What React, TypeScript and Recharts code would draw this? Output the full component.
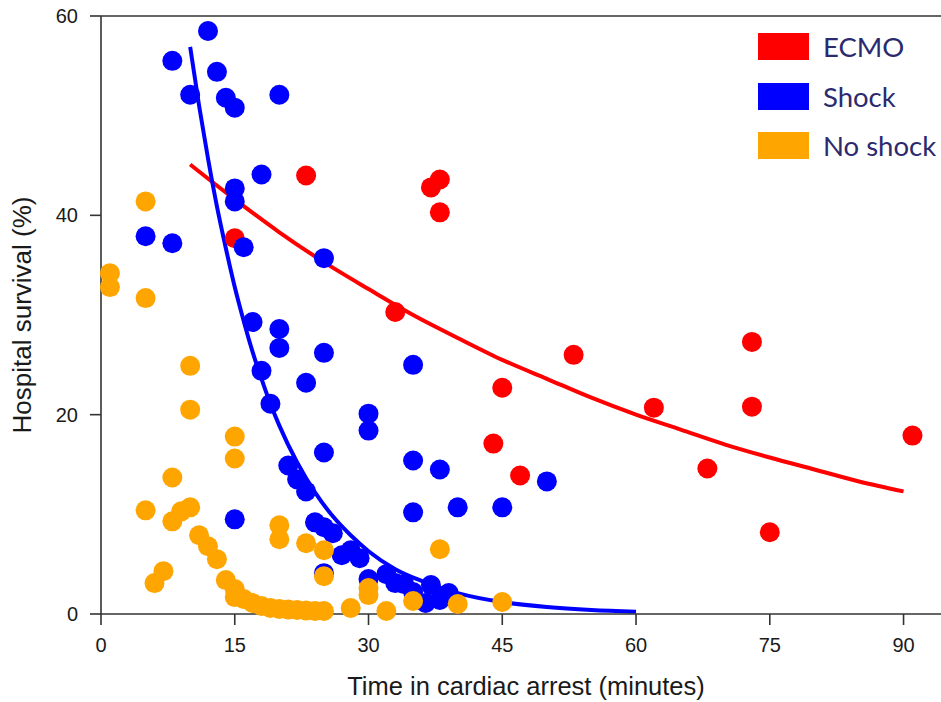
import {
  ComposedChart,
  Scatter,
  Line,
  XAxis,
  YAxis,
  ReferenceLine,
  Legend,
  Label,
} from 'recharts';

const xTicks = [0, 15, 30, 45, 60, 75, 90];
const yTicks = [0, 20, 40, 60];

const legendNames = ['ECMO', 'Shock', 'No shock'];
const legendColors = ['#ff0000', '#0000ff', '#ffa500'];

// ECMO group
const ecmoTime = [15, 23, 33, 37, 38, 38, 44, 45, 47, 53, 62, 68, 73, 73, 75, 91];
const ecmoSurvival = [37.7, 44, 30.3, 42.8, 43.6, 40.3, 17.1, 22.7, 13.9, 26, 20.7, 14.6, 27.3, 20.8, 8.2, 17.9];

// Shock group
const shockTime = [
  5, 8, 8, 10, 12, 13, 14, 15, 15, 15, 15, 16, 17, 18, 18, 19, 20, 20, 20, 21, 22, 23, 23, 24, 25, 25,
  25, 25, 25, 26, 27, 28, 29, 30, 30, 30, 32, 33, 34, 35, 35, 35, 35, 36.4, 37, 38, 38, 39, 40, 45, 50,
];
const shockSurvival = [
  37.9, 55.5, 37.2, 52.1, 58.5, 54.4, 51.8, 50.8, 42.7, 41.4, 9.5, 36.8, 29.3, 44.1, 24.4, 21.1, 52.1,
  28.6, 26.7, 14.9, 13.5, 23.2, 12.3, 9.2, 35.7, 26.2, 16.2, 8.7, 4.1, 8.1, 5.9, 6.4, 5.6, 20.1, 18.4,
  3.5, 4.0, 3.1, 3.0, 25.0, 15.4, 10.2, 2.2, 1.1, 2.9, 14.5, 1.4, 2.1, 10.7, 10.7, 13.3,
];

// No shock group
const noShockTime = [
  1, 1, 5, 5, 5, 6, 7, 8, 8, 9, 10, 10, 10, 11, 12, 13, 14, 15, 15, 15, 15, 16, 17, 18, 19, 20, 20, 20,
  21, 22, 23, 23, 24, 25, 25, 25, 28, 30, 30, 32, 35, 38, 40, 45,
];
const noShockSurvival = [
  34.2, 32.8, 41.4, 31.7, 10.4, 3.1, 4.3, 13.7, 9.3, 10.3, 24.9, 20.5, 10.7, 7.9, 6.8, 5.5, 3.4, 17.8,
  15.6, 2.5, 1.7, 1.5, 1.1, 0.8, 0.6, 8.9, 7.5, 0.5, 0.45, 0.4, 7.1, 0.35, 0.3, 6.4, 3.8, 0.3, 0.6, 2.6,
  1.9, 0.3, 1.3, 6.5, 1.0, 1.2,
];

// fitted curves
const ecmoFitTime = [10, 15, 20, 25, 30, 35, 40, 45, 50, 55, 60, 65, 70, 75, 80, 85, 90];
const ecmoFitSurvival = [45.1, 41.6, 38.3, 35.3, 32.6, 30.0, 27.7, 25.5, 23.6, 21.7, 20.0, 18.5, 17.0, 15.7, 14.5, 13.3, 12.3];

const shockFitTime = [10, 11, 12, 13, 14, 15, 16, 17, 18, 19, 20, 22, 24, 26, 28, 30, 33, 36, 40, 45, 50, 55, 60];
const shockFitSurvival = [
  56.9, 51.0, 45.7, 40.9, 36.7, 32.8, 29.4, 26.3, 23.6, 21.1, 18.9, 15.2, 12.2, 9.8, 7.9, 6.3, 4.5, 3.3,
  2.1, 1.2, 0.7, 0.4, 0.23,
];

const toPoints = (xs: number[], ys: number[]) => xs.map((x, i) => ({ x, y: ys[i] }));

const ecmoPoints = toPoints(ecmoTime, ecmoSurvival);
const shockPoints = toPoints(shockTime, shockSurvival);
const noShockPoints = toPoints(noShockTime, noShockSurvival);
const ecmoFit = toPoints(ecmoFitTime, ecmoFitSurvival);
const shockFit = toPoints(shockFitTime, shockFitSurvival);

const axisFont = '"Liberation Sans", Arial, sans-serif';

const dot = (color: string) => (props: any) => (
  <circle cx={props.cx} cy={props.cy} r={10} fill={color} />
);

const LegendBox = () => (
  <div>
    {legendNames.map((name, i) => (
      <div key={name} style={{ display: 'flex', alignItems: 'center', height: 49.5 }}>
        <div style={{ width: 51, height: 27, background: legendColors[i], marginRight: 14 }} />
        <span style={{ fontFamily: 'Lato, sans-serif', fontSize: 27.5, color: '#2b2a6e', lineHeight: 1 }}>
          {name}
        </span>
      </div>
    ))}
  </div>
);

export default function App() {
  return (
    <div style={{ position: 'absolute', left: 0, top: 0, background: '#fff' }}>
      <ComposedChart width={941} height={702} margin={{ top: 16, right: 0, bottom: 0, left: 0 }}>
        <XAxis
          dataKey="x"
          type="number"
          domain={[0, 94.2]}
          ticks={xTicks}
          height={88}
          tickSize={11}
          tickMargin={13}
          axisLine={{ stroke: '#333', strokeWidth: 1.6 }}
          tickLine={{ stroke: '#333', strokeWidth: 1.6 }}
          tick={{ fill: '#1a1a1a', fontSize: 20, fontFamily: axisFont }}
        >
          <Label
            value="Time in cardiac arrest (minutes)"
            position="insideBottom"
            offset={7}
            dx={5}
            style={{ fill: '#1a1a1a', fontSize: 25.5, fontFamily: axisFont }}
          />
        </XAxis>
        <YAxis
          dataKey="y"
          type="number"
          domain={[0, 60]}
          ticks={yTicks}
          width={101}
          tickSize={11}
          tickMargin={12}
          axisLine={{ stroke: '#333', strokeWidth: 1.6 }}
          tickLine={{ stroke: '#333', strokeWidth: 1.6 }}
          tick={{ fill: '#1a1a1a', fontSize: 20, fontFamily: axisFont }}
        >
          <Label
            value="Hospital survival (%)"
            angle={-90}
            position="insideLeft"
            offset={22}
            style={{ fill: '#1a1a1a', fontSize: 26, fontFamily: axisFont, textAnchor: 'middle' }}
          />
        </YAxis>
        <ReferenceLine y={60} stroke="#333" strokeWidth={1.6} />
        <Line
          data={ecmoFit}
          dataKey="y"
          type="monotone"
          stroke="#ff0000"
          strokeWidth={4}
          dot={false}
          activeDot={false}
          isAnimationActive={false}
        />
        <Scatter data={ecmoPoints} fill="#ff0000" shape={dot('#ff0000')} isAnimationActive={false} />
        <Scatter data={shockPoints} fill="#0000ff" shape={dot('#0000ff')} isAnimationActive={false} />
        <Line
          data={shockFit}
          dataKey="y"
          type="monotone"
          stroke="#0000ff"
          strokeWidth={4}
          dot={false}
          activeDot={false}
          isAnimationActive={false}
        />
        <Scatter data={noShockPoints} fill="#ffa500" shape={dot('#ffa500')} isAnimationActive={false} />
        <Legend
          layout="vertical"
          align="center"
          verticalAlign="middle"
          content={<LegendBox />}
          wrapperStyle={{ top: 22, left: 758, width: 183, height: 150 }}
        />
      </ComposedChart>
    </div>
  );
}
